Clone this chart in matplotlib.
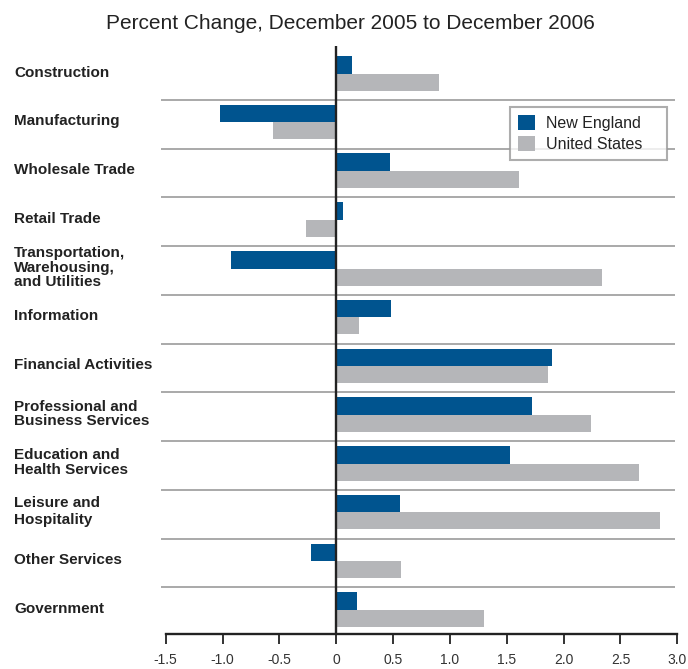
import matplotlib
matplotlib.use("Agg")
import matplotlib.pyplot as plt
from matplotlib import transforms
import numpy as np

# industry labels (top to bottom)
categories = [
    "Construction",
    "Manufacturing",
    "Wholesale Trade",
    "Retail Trade",
    "Transportation,\nWarehousing,\nand Utilities",
    "Information",
    "Financial Activities",
    "Professional and\nBusiness Services",
    "Education and\nHealth Services",
    "Leisure and\nHospitality",
    "Other Services",
    "Government",
]

# percent change, Dec 2005 to Dec 2006
new_england = [0.14, -1.02, 0.47, 0.06, -0.93, 0.48, 1.90, 1.72, 1.53, 0.56, -0.22, 0.18]
united_states = [0.90, -0.56, 1.61, -0.27, 2.34, 0.20, 1.86, 2.24, 2.66, 2.85, 0.57, 1.30]

xticks = [-1.5, -1.0, -0.5, 0, 0.5, 1.0, 1.5, 2.0, 2.5, 3.0]
xtick_labels = ["-1.5", "-1.0", "-0.5", "0", "0.5", "1.0", "1.5", "2.0", "2.5", "3.0"]

blue = "#00548f"
gray = "#b5b6b9"
sep_color = "#a3a3a3"
ink = "#222222"

plt.rcParams['font.family'] = ['Liberation Sans', 'DejaVu Sans']

fig = plt.figure(figsize=(6.88, 6.69), dpi=100)
ax = fig.add_axes([165.7 / 688, 1 - 634 / 669, 511.6 / 688, 588 / 669])

y = np.arange(len(categories))
ax.barh(y - 0.22, new_england, height=0.36, color=blue, label="New England", zorder=2)
ax.barh(y + 0.135, united_states, height=0.35, color=gray, label="United States", zorder=2)

# row separators
for i in range(len(categories) - 1):
    ax.plot([-1.54, 2.977], [i + 0.5, i + 0.5], color=sep_color, lw=1.3,
            clip_on=False, zorder=1, solid_capstyle="butt")

ax.axvline(0, color=ink, lw=1.7, zorder=3)

ax.set_xlim(-1.5, 3.0)
ax.set_ylim(11.455, -0.604)

for s in ["top", "right", "left"]:
    ax.spines[s].set_visible(False)
ax.spines["bottom"].set_linewidth(1.7)
ax.spines["bottom"].set_color(ink)

ax.set_yticks([])
ax.set_xticks(xticks)
ax.set_xticklabels(xtick_labels, fontsize=10, color="#333333")
ax.tick_params(axis="x", direction="out", length=7.5, width=1.3, color=ink, pad=6)

# category labels at left margin
trans = transforms.blended_transform_factory(fig.transFigure, ax.transData)
for i, lab in enumerate(categories):
    ls = 1.22 if lab.startswith("Leisure") else 1.05
    ax.text(14 / 688, i - 0.06, lab, transform=trans, ha="left", va="center",
            fontsize=11, fontweight="bold", color=ink, linespacing=ls)

fig.text(350 / 688, 1 - 29 / 669, "Percent Change, December 2005 to December 2006",
         ha="center", va="baseline", fontsize=15, color=ink)

leg = ax.legend(loc="upper left",
                bbox_to_anchor=(510 / 688, 1 - 161 / 669, 157 / 688, 54 / 669),
                bbox_transform=fig.transFigure, mode="expand",
                frameon=True, fancybox=False,
                fontsize=11.5, handlelength=1.05, handleheight=1.1,
                handletextpad=0.7, borderpad=0.5, labelspacing=0.3,
                borderaxespad=0)
leg.get_frame().set_edgecolor("#999999")
leg.get_frame().set_linewidth(1.5)
for t in leg.get_texts():
    t.set_color(ink)

fig.savefig("out.png", dpi=100)
